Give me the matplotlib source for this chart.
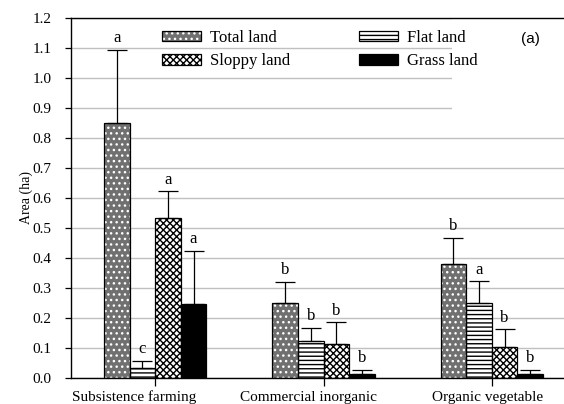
import matplotlib
matplotlib.use("Agg")
import matplotlib.pyplot as plt
import matplotlib.transforms as mtransforms
import numpy as np
from matplotlib.patches import Rectangle, Patch
from matplotlib.legend_handler import HandlerPatch

categories = ["Subsistence farming", "Commercial inorganic", "Organic vegetable"]
series = ["Total land", "Flat land", "Sloppy land", "Grass land"]
total_land = [0.851, 0.249, 0.380]
flat_land = [0.032, 0.122, 0.250]
sloppy_land = [0.533, 0.113, 0.105]
grass_land = [0.246, 0.012, 0.015]
total_err = [0.244, 0.071, 0.087]
flat_err = [0.025, 0.045, 0.073]
sloppy_err = [0.089, 0.073, 0.058]
grass_err = [0.179, 0.015, 0.013]
total_letters = ["a", "b", "b"]
flat_letters = ["c", "b", "a"]
sloppy_letters = ["a", "b", "b"]
grass_letters = ["a", "b", "b"]
yticks = [0.0, 0.1, 0.2, 0.3, 0.4, 0.5, 0.6, 0.7, 0.8, 0.9, 1.0, 1.1, 1.2]

plt.rcParams['font.family'] = ['Liberation Serif', 'DejaVu Serif']
plt.rcParams['hatch.linewidth'] = 1.0

fig = plt.figure(figsize=(5.64, 4.04), dpi=100)
W, H = 564, 404
ax = fig.add_axes([71 / W, (H - 378) / H, 505 / W, 360 / H])

x = np.arange(len(categories))
w = 0.152
offsets = [-1.5 * w, -0.5 * w, 0.5 * w, 1.5 * w]
vals = [total_land, flat_land, sloppy_land, grass_land]
errs = [total_err, flat_err, sloppy_err, grass_err]
letters = [total_letters, flat_letters, sloppy_letters, grass_letters]

styles = [
    dict(face="#707070", hatch="...", hcol="white"),
    dict(face="white", hatch="----", hcol="black"),
    dict(face="white", hatch="xxxxx", hcol="black"),
    dict(face="black", hatch=None, hcol="black"),
]

handles = []
for i, (v, e, lt, st, off) in enumerate(zip(vals, errs, letters, styles, offsets)):
    xs = x + off
    if st["hatch"]:
        ax.bar(xs, v, width=w, color=st["face"], edgecolor=st["hcol"],
               hatch=st["hatch"], linewidth=0, zorder=2)
    else:
        ax.bar(xs, v, width=w, color=st["face"], linewidth=0, zorder=2)
    ax.bar(xs, v, width=w, facecolor="none", edgecolor="black", linewidth=0.9, zorder=3)
    lower = [0] * len(v)
    ax.errorbar(xs, v, yerr=[lower, e], fmt="none", ecolor="black",
                elinewidth=0.9, capsize=7, capthick=0.9, zorder=4)
    for xi, vi, ei, li in zip(xs, v, e, lt):
        ax.text(xi, vi + ei + 0.012, li, ha="center", va="bottom", fontsize=12, zorder=5)
    if st["hatch"]:
        handles.append(Patch(facecolor=st["face"], edgecolor=st["hcol"], hatch=st["hatch"],
                             linewidth=0, label=series[i]))
    else:
        handles.append(Patch(facecolor=st["face"], edgecolor="black", label=series[i]))

ax.set_xlim(-0.5, 2.5)
ax.set_ylim(0, 1.2)
ax.set_yticks(yticks)
ax.set_yticklabels([f"{t:.1f}" for t in yticks], fontsize=11)
ax.set_xticks(x)
ax.set_xticklabels(categories, fontsize=11)
ax.tick_params(axis="y", direction="out", length=4, width=0.9, pad=10)
ax.tick_params(axis="x", direction="out", length=6, width=0.9, pad=3)
ax.set_ylabel("Area (ha)", fontsize=10)
ax.yaxis.set_label_coords(-0.076, 0.5)

# horizontal shift of category labels (pixels), as in the reference
label_shifts = [-21, -15, -4]
for lbl, dx in zip(ax.get_xticklabels(), label_shifts):
    lbl.set_transform(lbl.get_transform() +
                      mtransforms.ScaledTranslation(dx / 100, 0, fig.dpi_scale_trans))

ax.set_axisbelow(True)
ax.yaxis.grid(True, color="#c0c0c0", linewidth=1.0)
for s in ax.spines.values():
    s.set_linewidth(1.0)
    s.set_color("black")

ax.add_patch(Rectangle((0.754, 0.708), 0.3, 0.3, transform=ax.transAxes,
                       facecolor="white", edgecolor="none", zorder=0.9))


class HandlerBordered(HandlerPatch):
    def create_artists(self, legend, orig_handle, xdescent, ydescent, width, height, fontsize, trans):
        p1 = Rectangle((-xdescent, -ydescent), width, height, facecolor=orig_handle.get_facecolor(),
                       edgecolor=orig_handle.get_edgecolor(), hatch=orig_handle.get_hatch(),
                       linewidth=0, transform=trans)
        p2 = Rectangle((-xdescent, -ydescent), width, height, facecolor="none",
                       edgecolor="black", linewidth=0.9, transform=trans)
        return [p1, p2]


order = [handles[0], handles[2], handles[1], handles[3]]
leg = ax.legend(handles=order, ncol=2, loc="upper left", bbox_to_anchor=(0.157, 1.0),
                frameon=False, fontsize=12, handlelength=2.34, handleheight=0.6,
                handletextpad=0.55, columnspacing=4.1, labelspacing=0.45,
                borderaxespad=0.3, handler_map={h: HandlerBordered() for h in order})

ax.text(0.909, 0.942, "(a)", transform=ax.transAxes, fontsize=11,
        family=["Liberation Sans", "DejaVu Sans"], ha="center", va="center", zorder=6)

fig.savefig("out.png", dpi=100)
